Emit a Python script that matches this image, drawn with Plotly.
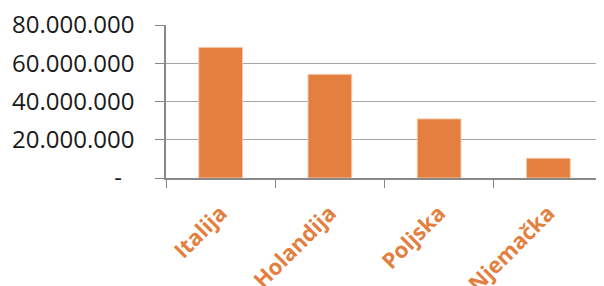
import plotly.graph_objects as go

categories = ["Italija", "Holandija", "Poljska", "Njemačka"]
values = [68300000, 54200000, 30900000, 10300000]
tick_vals = [0, 20000000, 40000000, 60000000, 80000000]
tick_text = ["-\u00a0\u00a0", "20.000.000", "40.000.000", "60.000.000", "80.000.000"]

fig = go.Figure(go.Bar(
    x=categories, y=values,
    marker=dict(color="#E37F3F", line=dict(color="#F6C7A6", width=1)),
    width=0.4,
))

fig.update_layout(
    width=596, height=278,
    margin=dict(l=158, r=1, t=17, b=108),
    paper_bgcolor="white", plot_bgcolor="white",
    showlegend=False,
    bargap=0.6,
)
fig.update_yaxes(
    range=[0, 80000000],
    tickvals=tick_vals, ticktext=tick_text,
    tickfont=dict(family="Open Sans", size=24, color="#1a1a1a"),
    showgrid=True, gridcolor="#A6A6A6", gridwidth=1,
    showline=True, linecolor="#888888", linewidth=1.5,
    ticks="outside", ticklen=9, tickcolor="#888888",
    ticklabelstandoff=16,
    ticklabeloverflow="allow",
    zeroline=False,
    automargin=False,
)
fig.update_xaxes(
    tickangle=-45,
    tickfont=dict(family="Open Sans", size=22, color="#E37F3F", weight="bold"),
    showline=True, linecolor="#888888", linewidth=1.5,
    ticks="outside", ticklen=8, tickcolor="#888888",
    tickson="boundaries",
    ticklabelstandoff=12,
    ticklabeloverflow="allow",
    automargin=False,
)
fig.write_html("out.html")
